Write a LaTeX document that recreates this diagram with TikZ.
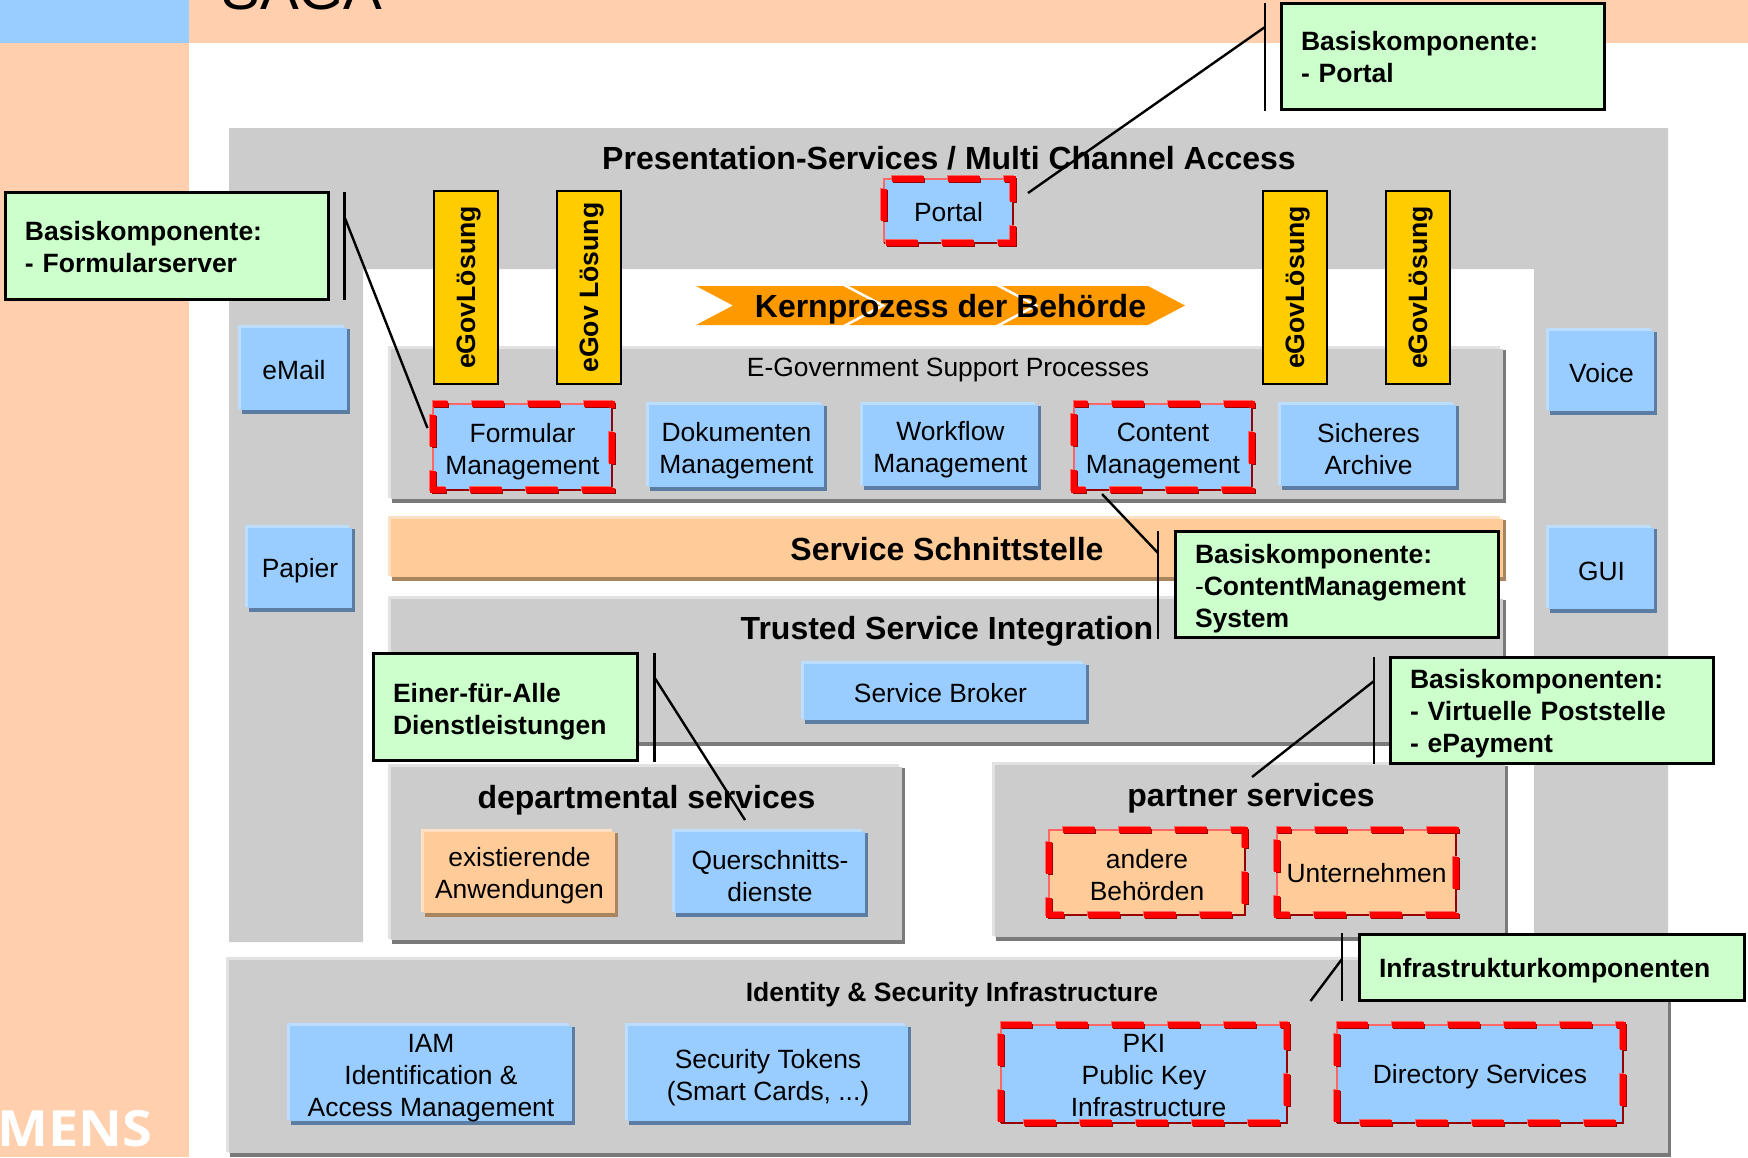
\documentclass[tikz,border=0pt]{standalone}
\usepackage{fontspec}
\setmainfont{Liberation Sans}
\newfontfamily\mensfont{Open Sans}
\definecolor{bandO}{HTML}{FFCFAE}
\definecolor{blueF}{HTML}{99CCFF}
\definecolor{blueL}{HTML}{BBDDFF}
\definecolor{blueD}{HTML}{5C7DA3}
\definecolor{orngF}{HTML}{FFCC99}
\definecolor{orngL}{HTML}{FFE0C2}
\definecolor{orngD}{HTML}{A8845F}
\definecolor{grayF}{HTML}{CCCCCC}
\definecolor{grayL}{HTML}{E2E2E2}
\definecolor{grayD}{HTML}{7A7A7A}
\definecolor{greenF}{HTML}{CCFFCC}
\definecolor{barY}{HTML}{FFCC00}
\definecolor{kernO}{HTML}{FF9900}
\definecolor{dashL}{HTML}{FF6666}
\definecolor{dashD}{HTML}{990000}
\tikzset{
  lbl/.style={font=\fontsize{13.2}{16}\selectfont},
  blbl/.style={font=\fontsize{13.25}{16}\bfseries\selectfont},
  ttl/.style={font=\fontsize{16}{18}\bfseries\selectfont,inner sep=0pt},
  note/.style={align=left,inner sep=0pt,blbl},
  leader/.style={draw=black,line width=1.2pt},
  bar/.style={draw=black,line width=.9pt,fill=barY,inner sep=0pt,rotate=90,font=\fontsize{13.3}{16}\bfseries\selectfont},
  kern/.style={fill=kernO}
}
% raised box: [text dy] name x1 y1 x2 y2 kind text
\newcommand\rbox[8][0]{%
  \fill[#7L] (#3,#4) rectangle ({#5-6},{#6-5});
  \fill[#7D] ({#3+4},{#4+4}) rectangle (#5,#6);
  \fill[#7F] ({#3+3},{#4+3}) rectangle ({#5-3},{#6-4});
  \node[lbl,align=center,inner sep=0pt] (#2) at ({(#3+#5)/2},{(#4+#6-1)/2+#1}) {#8};}
% dashed box: [text dy] name x1 y1 x2 y2 phase fill text
\newcommand\dbox[9][0]{%
  \fill[#8] (#3,#4) rectangle (#5,#6);
  \draw[dashL,line width=1pt] (#3,#6) -- (#3,#4) -- (#5,#4);
  \draw[dashD,line width=1.3pt] (#5,#4) -- (#5,#6) -- (#3,#6);
  \draw[dashL,line width=2.6pt,xshift=-.6pt,yshift=.6pt,dash pattern=on 16pt off 12pt,dash phase={#7*0.5pt}]
    (#3,#4) -- (#5,#4) -- (#5,#6) -- (#3,#6) -- cycle;
  \draw[dashD,line width=2.6pt,xshift=.6pt,yshift=-.6pt,dash pattern=on 16pt off 12pt,dash phase={#7*0.5pt}]
    (#3,#4) -- (#5,#4) -- (#5,#6) -- (#3,#6) -- cycle;
  \draw[red,line width=3.2pt,dash pattern=on 16pt off 12pt,dash phase={#7*0.5pt}]
    (#3,#4) -- (#5,#4) -- (#5,#6) -- (#3,#6) -- cycle;
  \node[lbl,align=center,inner sep=0pt] (#2) at ({(#3+#5)/2},{(#4+#6)/2+#1}) {#9};}
% green note: [text dy] name x1 y1 x2 y2 text
\newcommand\gnote[7][0]{%
  \draw[black,line width=1.5pt,fill=greenF] ({#3+1.5},{#4+1.5}) rectangle ({#5-1.5},{#6-1.5});
  \node[note,text width={(#5-#3-42)*0.5pt}] (#2) at ({(#3+#5)/2},{(#4+#6)/2+#1}) {#7};}
% vertical bar: name x1 x2 text
\newcommand\vbar[4]{%
  \node[bar,minimum width={193*0.5pt},minimum height={(#3-#2-2)*0.5pt}] (#1) at ({(#2+#3)/2},287.5) {\raisebox{-4.5pt}[0pt][0pt]{#4}};}
\begin{document}
\begin{tikzpicture}[x=.5pt,y=-.5pt]
\useasboundingbox (0,0) rectangle (1748,1157);
\fill[white] (0,0) rectangle (1748,1157);
% page frame
\fill[bandO] (189,0) rectangle (1748,43);
\fill[bandO] (0,43) rectangle (189,1157);
\fill[blueF] (0,0) rectangle (189,43);
\node[anchor=base west,inner sep=0pt,font=\fontsize{29}{29}\selectfont] (saga) at (221,9) {SAGA};
\node[anchor=base east,inner sep=0pt,text=white,font=\mensfont\fontsize{26}{26}\bfseries\selectfont] (mens) at (153,1146) {\scalebox{1.04}[.96]{MENS}};
% presentation frame
\fill[grayF] (229,128) -- (1668,128) -- (1668,942) -- (1534,942) -- (1534,269) -- (363,269) -- (363,942) -- (229,942) -- cycle;
\node[ttl] (tpres) at (949,158) {Presentation-Services / Multi Channel Access};
% kernprozess
\fill[kern] (696,286) -- (843,286) -- (880,305.5) -- (843,325) -- (696,325) -- (733,305.5) -- cycle;
\fill[kern] (849,286) -- (996,286) -- (1033,305.5) -- (996,325) -- (849,325) -- (886,305.5) -- cycle;
\fill[kern] (1002,286) -- (1148,286) -- (1185,305.5) -- (1148,325) -- (1002,325) -- (1039,305.5) -- cycle;
\node[ttl] (tkern) at (950.5,309) {Kernprozess der Behörde};
% panels
\rbox{pegov}{388}{346}{1506}{503}{gray}{}
\rbox{psvc}{388}{516}{1506}{581}{orng}{}
\rbox{ptrust}{388}{596}{1506}{746}{gray}{}
\rbox{pdept}{388}{764}{905}{944}{gray}{}
\rbox{ppart}{992}{762}{1508}{941}{gray}{}
\rbox{pid}{226}{957}{1671}{1157}{gray}{}
% panel titles
\node[lbl,inner sep=0pt] (tegov) at (948,370) {E-Government Support Processes};
\node[ttl] (tsvc) at (947,549) {Service Schnittstelle};
\node[ttl] (ttrust) at (947,631.5) {Trusted Service Integration};
\node[ttl] (tdept) at (646.5,800) {departmental services};
\node[ttl] (tpart) at (1251,798) {partner services};
\node[blbl,inner sep=0pt] (tid) at (952,995) {Identity \& Security Infrastructure};
% side boxes
\rbox[1]{email}{238}{325}{350}{414}{blue}{eMail}
\rbox[3]{papier}{245}{525}{355}{612}{blue}{Papier}
\rbox[2]{voice}{1546}{328}{1657}{415}{blue}{Voice}
\rbox[3]{gui}{1546}{525}{1657}{613}{blue}{GUI}
% presentation
\dbox[1]{portal}{884}{179}{1013}{243}{48}{blueF}{Portal}
% support
\dbox[4.5]{formular}{433}{404}{612}{490}{17}{blueF}{Formular\\Management}
\rbox[4.5]{dok}{646}{402}{827}{491}{blue}{Dokumenten\\Management}
\rbox[4.5]{work}{860}{402}{1041}{490}{blue}{Workflow\\Management}
\dbox[4.5]{content}{1074}{404}{1252}{490}{18}{blueF}{Content\\Management}
\rbox[3.5]{archiv}{1278}{402}{1459}{490}{blue}{Sicheres\\Archive}
% trusted
\rbox[1]{broker}{801}{661}{1089}{724}{blue}{Service Broker\hspace*{4.5pt}}
% departmental
\rbox[3.5]{exist}{421}{829}{618}{917}{orng}{existierende\\Anwendungen}
\rbox[3.5]{quer}{672}{829}{868}{917}{blue}{Querschnitts-\\dienste}
% partner
\dbox[2.5]{andere}{1049}{830}{1245}{915}{42}{orngF}{andere\\Behörden}
\dbox[1]{untern}{1277}{830}{1456}{915}{18}{orngF}{Unternehmen}
% identity
\rbox[4.5]{iam}{287}{1023}{575}{1125}{blue}{IAM\\Identification \&\\Access Management}
\rbox[4.5]{token}{625}{1023}{911}{1125}{blue}{Security Tokens\\(Smart Cards, ...)}
\dbox[2]{pki}{1001}{1025}{1287}{1123}{1}{blueF}{PKI\\Public Key\\\hspace*{4.5pt}Infrastructure}
\dbox[3]{dir}{1337}{1025}{1623}{1123}{1}{blueF}{Directory Services}
% eGov bars
\vbar{bar1}{433}{499}{eGovLösung}
\vbar{bar2}{556}{622}{eGov Lösung}
\vbar{bar3}{1262}{1328}{eGovLösung}
\vbar{bar4}{1385}{1451}{eGovLösung}
% green notes
\gnote[1]{nform}{4}{191}{330}{301}{Basiskomponente:\\- Formularserver}
\gnote[1]{nport}{1280}{2}{1606}{111}{Basiskomponente:\\- Portal}
\gnote[4.5]{ncont}{1174}{530}{1500}{639}{Basiskomponente:\\{\mdseries-}ContentManagement\\System}
\gnote[4.5]{neiner}{372}{652}{639}{762}{Einer-für-Alle\\Dienstleistungen}
\gnote[3.5]{nvirt}{1389}{656}{1715}{765}{Basiskomponenten:\\- Virtuelle Poststelle\\- ePayment}
\gnote[3.3]{ninfra}{1358}{933}{1746}{1002}{Infrastrukturkomponenten}
% callout bars and leaders
\coordinate (a1) at (344.5,192); \coordinate (a2) at (344.5,300); \coordinate (a3) at (344.5,217); \coordinate (a4) at (427.5,428);
\draw[leader] (a1) -- (a2); \draw[leader] (a3) -- (a4);
\coordinate (b1) at (1265,3); \coordinate (b2) at (1265,111); \coordinate (b3) at (1265,27); \coordinate (b4) at (1028,193);
\draw[leader] (b1) -- (b2); \draw[leader] (b3) -- (b4);
\coordinate (c1) at (1158,531); \coordinate (c2) at (1158,639); \coordinate (c3) at (1158,553); \coordinate (c4) at (1102,494);
\draw[leader] (c1) -- (c2); \draw[leader] (c3) -- (c4);
\coordinate (d1) at (654.5,653); \coordinate (d2) at (654.5,761.5); \coordinate (d3) at (654.5,677.5); \coordinate (d4) at (745,820);
\draw[leader] (d1) -- (d2); \draw[leader] (d3) -- (d4);
\coordinate (e1) at (1374,657); \coordinate (e2) at (1374,764); \coordinate (e3) at (1374,681); \coordinate (e4) at (1252,777);
\draw[leader] (e1) -- (e2); \draw[leader] (e3) -- (e4);
\coordinate (f1) at (1342,933); \coordinate (f2) at (1342,1001); \coordinate (f3) at (1342,959); \coordinate (f4) at (1310.5,1001);
\draw[leader] (f1) -- (f2); \draw[leader] (f3) -- (f4);
\end{tikzpicture}
\end{document}
